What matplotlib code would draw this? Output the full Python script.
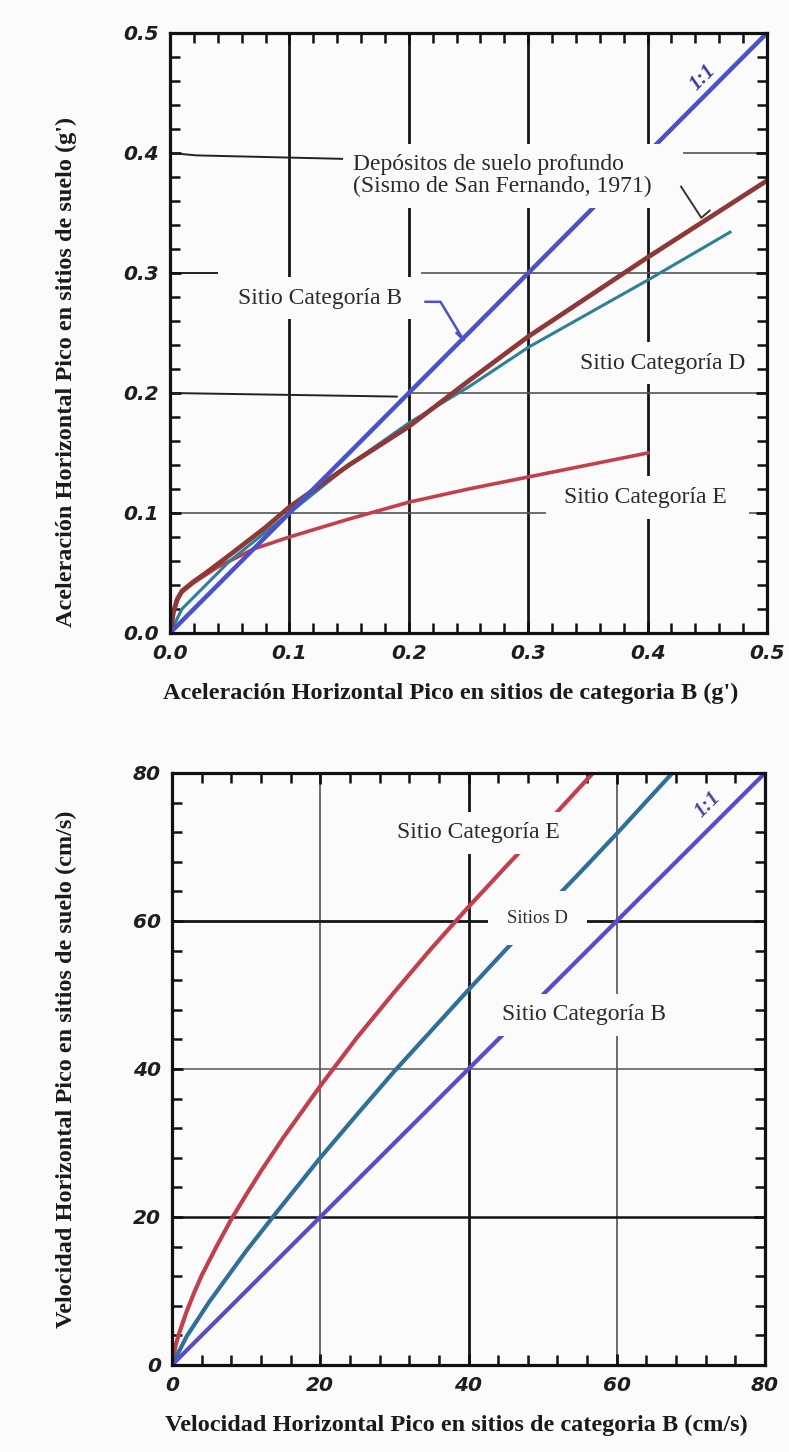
import matplotlib.pyplot as plt
from matplotlib.ticker import MultipleLocator

# top chart: peak horizontal acceleration (g')
acc_B_x = [0.0, 0.5]
acc_B_y = [0.0, 0.5]
acc_deep_x = [0.0, 0.003, 0.006, 0.01, 0.02, 0.03, 0.05, 0.08, 0.1, 0.15, 0.2, 0.25, 0.3, 0.35, 0.4, 0.45, 0.5]
acc_deep_y = [0.0, 0.018, 0.028, 0.035, 0.043, 0.05, 0.065, 0.088, 0.105, 0.14, 0.172, 0.21, 0.247, 0.28, 0.313, 0.345, 0.377]
acc_D_x = [0.0, 0.01, 0.03, 0.05, 0.1, 0.15, 0.2, 0.25, 0.3, 0.35, 0.4, 0.469]
acc_D_y = [0.0, 0.02, 0.04, 0.06, 0.1, 0.14, 0.175, 0.205, 0.238, 0.266, 0.294, 0.334]
acc_E_x = [0.0, 0.003, 0.006, 0.01, 0.02, 0.04, 0.07, 0.1, 0.15, 0.2, 0.25, 0.3, 0.35, 0.4]
acc_E_y = [0.0, 0.017, 0.027, 0.034, 0.042, 0.055, 0.07, 0.08, 0.095, 0.109, 0.12, 0.13, 0.14, 0.15]
acc_ticks = [0.0, 0.1, 0.2, 0.3, 0.4, 0.5]
acc_ticklabels = ["0.0", "0.1", "0.2", "0.3", "0.4", "0.5"]

# bottom chart: peak horizontal velocity (cm/s)
vel_B_x = [0, 80]
vel_B_y = [0, 80]
vel_D_x = [0, 2, 5, 10, 14, 20, 25, 30, 35, 40, 45, 50, 55, 60, 67.5]
vel_D_y = [0, 3.9, 8.5, 15.4, 20.5, 28, 33.9, 39.7, 45.2, 50.7, 56.1, 61.3, 66.5, 71.8, 80]
vel_E_x = [0, 0.5, 1, 2, 3, 4, 6, 8, 10, 12, 15, 20, 25, 30, 35, 40, 45, 50, 56.8]
vel_E_y = [0, 2.7, 4.4, 7.3, 9.8, 12.1, 16.0, 19.7, 23.0, 26.2, 30.7, 37.7, 44.3, 50.4, 56.3, 61.9, 67.3, 72.6, 80]
vel_ticks = [0, 20, 40, 60, 80]
vel_ticklabels = ["0", "20", "40", "60", "80"]

BG = "#fbfbfb"
SERIF = "Liberation Serif"
TXT = "#2a2a2a"
box = dict(boxstyle="square,pad=0.45", fc=BG, ec="none")

fig = plt.figure(figsize=(7.89, 14.52), dpi=100, facecolor=BG)
ax1 = fig.add_axes([170/789, 1-633/1452, 597/789, 600/1452], facecolor=BG)
ax2 = fig.add_axes([172/789, 1-1365/1452, 593/789, 592/1452], facecolor=BG)


def style_axes(ax, ticks, labels, minor):
    ax.set_xlim(ticks[0], ticks[-1])
    ax.set_ylim(ticks[0], ticks[-1])
    ax.set_xticks(ticks)
    ax.set_yticks(ticks)
    ax.set_xticklabels(labels)
    ax.set_yticklabels(labels)
    ax.xaxis.set_minor_locator(MultipleLocator(minor))
    ax.yaxis.set_minor_locator(MultipleLocator(minor))
    ax.tick_params(which="both", direction="in", top=True, right=True, color="#111111")
    ax.tick_params(which="major", length=8, width=2, pad=8)
    ax.tick_params(which="minor", length=7, width=1.8)
    for lab in ax.get_xticklabels() + ax.get_yticklabels():
        lab.set_fontfamily("DejaVu Sans")
        lab.set_fontweight("bold")
        lab.set_fontstyle("italic")
        lab.set_fontsize(14.5)
        lab.set_color("#1e1e1e")
    for s in ax.spines.values():
        s.set_linewidth(2.3)
        s.set_color("#111111")
        s.set_zorder(7)


# ---------------- top chart ----------------
ax = ax1
style_axes(ax, acc_ticks, acc_ticklabels, 0.02)
for v in [0.1, 0.2, 0.3, 0.4]:
    ax.axvline(v, color="#151515", lw=2.0, zorder=1)
# partial horizontal grid lines
ax.hlines(0.1, 0.0, 0.315, color="#555555", lw=1.2, zorder=1)
ax.hlines(0.1, 0.485, 0.5, color="#555555", lw=1.2, zorder=1)
ax.hlines(0.2, 0.2, 0.5, color="#555555", lw=1.2, zorder=1)
ax.hlines(0.3, 0.21, 0.5, color="#555555", lw=1.2, zorder=1)
ax.hlines(0.3, 0.0, 0.04, color="#222222", lw=1.4, zorder=1)
ax.hlines(0.4, 0.43, 0.5, color="#555555", lw=1.2, zorder=1)
# leader lines
ax.plot([0.0, 0.0225, 0.15], [0.4, 0.398, 0.395], color="#222222", lw=1.4, zorder=2)
ax.plot([0.0, 0.19], [0.2, 0.197], color="#222222", lw=1.4, zorder=2)

ax.plot(acc_E_x, acc_E_y, color="#c2404c", lw=2.6, zorder=4)
ax.plot(acc_D_x, acc_D_y, color="#2f7f98", lw=2.2, zorder=4)
ax.plot(acc_deep_x, acc_deep_y, color="#8e3838", lw=3.4, zorder=4)
ax.plot(acc_B_x, acc_B_y, color="#4a52c8", lw=3.2, zorder=4)

ax.text(0.1535, 0.381, "Depósitos de suelo profundo\n(Sismo de San Fernando, 1971)",
        ha="left", va="center", fontsize=17, family=SERIF, color=TXT,
        linespacing=1.05, bbox=box, zorder=6)
ax.plot([0.428, 0.445, 0.452], [0.372, 0.346, 0.352], color="#333333", lw=1.4, zorder=5)
ax.text(0.126, 0.279, "Sitio Categoría B", ha="center", va="center", fontsize=17,
        family=SERIF, color=TXT, bbox=box, zorder=6)
ax.plot([0.214, 0.2265, 0.246, 0.24], [0.276, 0.276, 0.244, 0.25], color="#4a52c8", lw=1.8, zorder=5)
ax.text(0.413, 0.225, "Sitio Categoría D", ha="center", va="center", fontsize=17,
        family=SERIF, color=TXT, bbox=box, zorder=6)
ax.text(0.398, 0.113, "Sitio Categoría E", ha="center", va="center", fontsize=17,
        family=SERIF, color=TXT, bbox=box, zorder=6)
ax.text(0.446, 0.4625, "1:1", ha="center", va="center", rotation=45, fontsize=15,
        family=SERIF, fontweight="bold", style="italic", color="#3a3a9a", zorder=6)

fig.text(451/789, 1-693/1452, "Aceleración Horizontal Pico en sitios de categoria B (g')",
         ha="center", va="center", fontsize=17.5, fontweight="bold", family=SERIF, color="#1a1a1a")
fig.text(66/789, 1-372/1452, "Aceleración Horizontal Pico en sitios de suelo (g')",
         ha="center", va="center", rotation=90, fontsize=17.5, fontweight="bold", family=SERIF,
         color="#1a1a1a")

# ---------------- bottom chart ----------------
ax = ax2
style_axes(ax, vel_ticks, vel_ticklabels, 4)
ax.axvline(20, color="#444444", lw=1.1, zorder=1)
ax.axvline(40, color="#151515", lw=2.0, zorder=1)
ax.axvline(60, color="#444444", lw=1.1, zorder=1)
ax.axhline(20, color="#151515", lw=1.8, zorder=1)
ax.axhline(40, color="#555555", lw=1.1, zorder=1)
ax.axhline(60, color="#151515", lw=2.0, zorder=1)

ax.plot(vel_E_x, vel_E_y, color="#c2404c", lw=3.0, zorder=4)
ax.plot(vel_D_x, vel_D_y, color="#2f6f98", lw=3.0, zorder=4)
ax.plot(vel_B_x, vel_B_y, color="#5a4cc8", lw=3.0, zorder=4)

ax.text(41.3, 71.9, "Sitio Categoría E", ha="center", va="center", fontsize=17,
        family=SERIF, color=TXT, bbox=box, zorder=6)
ax.text(49.3, 60.4, "Sitios D", ha="center", va="center", fontsize=13.5,
        family=SERIF, color=TXT, bbox=dict(boxstyle="square,pad=1.0", fc=BG, ec="none"), zorder=6)
ax.text(55.6, 47.3, "Sitio Categoría B", ha="center", va="center", fontsize=17,
        family=SERIF, color=TXT, bbox=box, zorder=6)
ax.text(72.3, 75.7, "1:1", ha="center", va="center", rotation=45, fontsize=15,
        family=SERIF, fontweight="bold", style="italic", color="#4a40a8", zorder=6)

fig.text(456/789, 1-1425/1452, "Velocidad Horizontal Pico en sitios de categoria B (cm/s)",
         ha="center", va="center", fontsize=17.5, fontweight="bold", family=SERIF, color="#1a1a1a")
fig.text(66/789, 1-1069/1452, "Velocidad Horizontal Pico en sitios de suelo (cm/s)",
         ha="center", va="center", rotation=90, fontsize=17.5, fontweight="bold", family=SERIF,
         color="#1a1a1a")

plt.savefig("out.png", dpi=100, facecolor=BG)
